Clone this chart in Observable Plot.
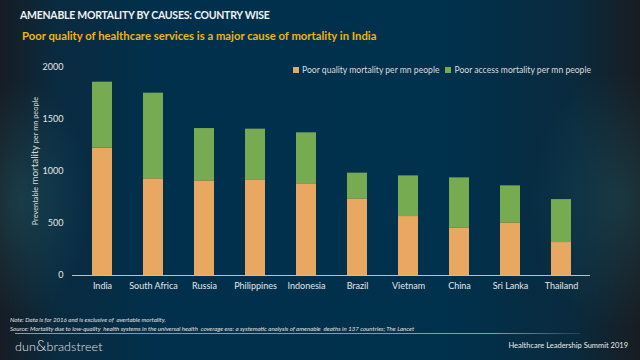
<!DOCTYPE html>
<html>
<head>
<meta charset="utf-8">
<script src="https://cdn.jsdelivr.net/npm/d3@7"></script>
<script src="https://cdn.jsdelivr.net/npm/@observablehq/plot@0.6"></script>
<style>
  html, body { margin: 0; padding: 0; }
  body {
    width: 640px; height: 360px; overflow: hidden; position: relative;
    font-family: Lato, "Open Sans", sans-serif;
    background:
      radial-gradient(ellipse 70px 120px at 20px 200px, rgba(40,110,120,0.35), rgba(0,0,0,0)),
      radial-gradient(ellipse 90px 130px at 620px 200px, rgba(40,110,120,0.30), rgba(0,0,0,0)),
      linear-gradient(90deg, #161c24 0%, #0b2a3e 8%, #00304c 25%, #00314d 70%, #0a2a3d 90%, #181c22 100%);
  }
  .abs { position: absolute; white-space: nowrap; }
  #title { left: 20px; top: 9px; color: #f2f2f2; font-size: 10.5px; font-weight: 700; letter-spacing: -0.25px; }
  #subtitle { left: 22px; top: 29px; color: #f0b414; font-size: 11.3px; font-weight: 700; }
  #legend { left: 293px; top: 65px; color: #dcdcdc; font-size: 8.6px; display: flex; align-items: center; }
  #legend .sw { display: inline-block; width: 6px; height: 6px; margin-right: 3px; }
  #legend .item { display: flex; align-items: center; margin-right: 6px; }
  #ylabel { left: 34px; top: 161px; color: #d8d8d8; font-size: 7.4px; transform: translate(-50%, -50%) rotate(-90deg); }
  #ylabel b { font-size: 10px; font-weight: 400; }
  #chart { position: absolute; left: 0; top: 50px; }
  #note { left: 10px; top: 315px; color: #e0e0e0; font-size: 6.1px; font-style: italic; line-height: 9px; }
  #rule { left: 15px; top: 333px; width: 565px; height: 1px; background: linear-gradient(90deg, #8a9aa6 85%, rgba(138,154,166,0.2)); }
  #brand { left: 15px; top: 336px; color: #e6e6e6; font-size: 12.5px; font-weight: 300; letter-spacing: 0.1px; }
  #summit { right: 12px; top: 341px; color: #eaeaea; font-size: 7.5px; }
</style>
</head>
<body>
<div id="title" class="abs">AMENABLE MORTALITY BY CAUSES: COUNTRY WISE</div>
<div id="subtitle" class="abs">Poor quality of healthcare services is a major cause of mortality in India</div>
<div id="ylabel" class="abs">Preventable <b>mortality</b> per mn people</div>
<div id="chart"></div>
<div id="legend" class="abs"></div>
<div id="note" class="abs">Note: Data is for 2016 and is exclusive of &nbsp;avertable mortality.<br>Source: Mortality due to low-quality &nbsp;health systems in the universal health &nbsp;coverage era: a systematic analysis of amenable &nbsp;deaths in 137 countries; The Lancet</div>
<div id="rule" class="abs"></div>
<div id="brand" class="abs">dun<span style="font-size:15px">&amp;</span>bradstreet</div>
<div id="summit" class="abs">Healthcare Leadership Summit 2019</div>
<script>
const countries = ["India", "South Africa", "Russia", "Philippines", "Indonesia", "Brazil", "Vietnam", "China", "Sri Lanka", "Thailand"];
const poorQuality = [1224, 930, 910, 920, 882, 737, 567, 458, 506, 317];
const poorAccess = [635, 823, 503, 487, 490, 247, 391, 481, 356, 413];
const seriesNames = ["Poor quality mortality per mn people", "Poor access mortality per mn people"];
const seriesColors = ["#e8a862", "#77ab51"];
const yTicks = [0, 500, 1000, 1500, 2000];

const rows = [];
countries.forEach((c, i) => {
  rows.push({country: c, series: seriesNames[0], value: poorQuality[i]});
  rows.push({country: c, series: seriesNames[1], value: poorAccess[i]});
});

const chart = Plot.plot({
  width: 640,
  height: 250,
  marginLeft: 72,
  marginRight: 50,
  marginTop: 17,
  marginBottom: 25,
  style: {background: "transparent", color: "#e6e6e6", fontFamily: "Lato, sans-serif", fontSize: "9px"},
  x: {domain: countries, paddingInner: 0.61, paddingOuter: 0.305, label: null, tickSize: 0, tickPadding: 7},
  y: {domain: [0, 2000], ticks: yTicks, tickFormat: d3.format("d"), label: null, tickSize: 0, tickPadding: 9},
  color: {domain: seriesNames, range: seriesColors},
  marks: [
    Plot.barY(rows, Plot.stackY({x: "country", y: "value", fill: "series", order: seriesNames})),
    Plot.ruleY([0], {stroke: "#b8c0c8", strokeWidth: 1})
  ]
});
document.getElementById("chart").appendChild(chart);

const legend = document.getElementById("legend");
seriesNames.forEach((s, i) => {
  const item = document.createElement("span");
  item.className = "item";
  item.innerHTML = `<span class="sw" style="background:${seriesColors[i]}"></span>${s}`;
  legend.appendChild(item);
});
</script>
</body>
</html>
